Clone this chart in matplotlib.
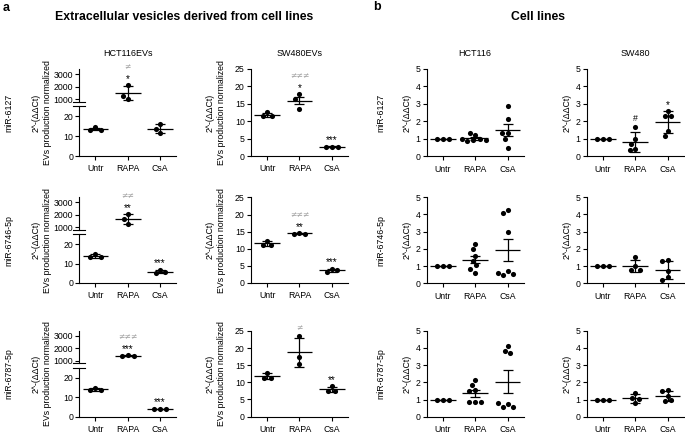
import numpy as np
import matplotlib
matplotlib.use("Agg")
import matplotlib.pyplot as plt

plt.rcParams['font.family'] = ['Liberation Sans', 'DejaVu Sans']
plt.rcParams['font.size'] = 6.3

groups = ["Untr", "RAPA", "CsA"]
mirs = ["miR-6127", "miR-6746-5p", "miR-6787-5p"]

# panel a, HCT116 EVs (mean line, +/- error)
ev_hct_6127 = [[14.5, 13.2, 13.2], [2110, 1050, 1260], [16.2, 11.7, 13.5]]
ev_hct_6127_err = [0.7, 560, 2.3]
ev_hct_6746 = [[14.8, 13.4, 13.4], [2050, 1690, 1250], [6.9, 5.1, 5.5]]
ev_hct_6746_err = [0.8, 400, 0.9]
ev_hct_6787 = [[14.8, 13.6, 13.6], [1420, 1400, 1410], [4.0, 4.0, 4.0]]
ev_hct_6787_err = [0.7, 15, 0.1]

# panel a, SW480 EVs
ev_sw_6127 = [[12.6, 11.5, 11.5], [17.7, 16.5, 13.6], [2.7, 2.7, 2.7]]
ev_sw_6127_err = [0.6, 1.1, 0.05]
ev_sw_6746 = [[12.4, 11.25, 11.25], [14.65, 14.4, 14.4], [4.2, 3.2, 3.7]]
ev_sw_6746_err = [0.7, 0.15, 0.5]
ev_sw_6787 = [[12.7, 11.35, 11.35], [23.5, 17.3, 15.4], [8.85, 7.5, 7.5]]
ev_sw_6787_err = [0.8, 4.3, 0.8]

# panel b, HCT116 cells
hct_6127 = [[1, 1, 1], [1.2, 1.3, 1.0, 0.9, 0.85, 0.95, 1.0], [2.85, 2.1, 1.3, 1.3, 1.0, 0.5]]
hct_6127_err = [0, 0.08, 0.34]
hct_6746 = [[1, 1, 1], [2.28, 1.98, 1.6, 1.3, 1.05, 0.62, 0.8], [4.22, 4.05, 2.95, 0.72, 0.5, 0.55, 0.62]]
hct_6746_err = [0, 0.19, 0.63]
hct_6787 = [[1, 1, 1], [2.13, 1.85, 1.55, 1.5, 0.85, 0.85, 0.85], [4.13, 3.84, 3.67, 0.72, 0.55, 0.57, 0.78]]
hct_6787_err = [0, 0.2, 0.66]

# panel b, SW480 cells
sw_6127 = [[1, 1, 1], [1.65, 0.97, 0.72, 0.44, 0.35], [2.58, 2.28, 2.28, 1.43, 1.14]]
sw_6127_err = [0, 0.57, 0.64]
sw_6746 = [[1, 1, 1], [1.5, 1.0, 0.78, 0.78], [1.35, 1.3, 0.7, 0.35, 0.2]]
sw_6746_err = [0, 0.34, 0.52]
sw_6787 = [[1, 1, 1], [1.35, 1.08, 0.8, 1.05], [1.55, 1.5, 1.2, 0.9, 0.95]]
sw_6787_err = [0, 0.25, 0.3]

# significance marks per group: (grey "not equal"/hash line, star line)
ev_hct_neq = [["", "≠", ""], ["", "≠≠", ""], ["", "≠≠≠", ""]]
ev_hct_star = [["", "*", ""], ["", "**", "***"], ["", "***", "***"]]
ev_sw_neq = [["", "≠≠≠", ""], ["", "≠≠≠", ""], ["", "≠", ""]]
ev_sw_star = [["", "*", "***"], ["", "**", "***"], ["", "", "**"]]
sw_hash = [["", "#", ""], ["", "", ""], ["", "", ""]]
sw_star = [["", "", "*"], ["", "", ""], ["", "", ""]]
no_marks = [["", "", ""]] * 3

W, H = 685, 434
fig = plt.figure(figsize=(W / 100, H / 100), dpi=100)

col_left = [79.3, 251, 426.7, 586.7]
ax_w = 97
row_top = [69, 197.5, 331]
row_bot = [156, 283, 416.5]
grey = '#a0a0a0'
# glyph: (font size, visible centre above baseline in em, font family)
glyph = {'*': (7.2, 0.58, 'Liberation Sans'),
         '≠': (5.6, 0.36, 'DejaVu Sans'),
         '#': (6.3, 0.36, 'Liberation Sans')}


def fx(px):
    return px / W


def fy(py):
    return 1 - py / H


def box(left, top, bottom):
    return [left / W, 1 - bottom / H, ax_w / W, (bottom - top) / H]


def style(ax, xaxis=True):
    for s in ('top', 'right'):
        ax.spines[s].set_visible(False)
    for s in ('left', 'bottom'):
        ax.spines[s].set_linewidth(0.8)
    ax.tick_params(direction='out', length=3, width=0.8, pad=1.5, labelsize=6.3)
    ax.set_xlim(-0.5, 2.5)
    if xaxis:
        ax.set_xticks(range(3))
        ax.set_xticklabels(groups)
        ax.tick_params(axis='x', pad=3)
    else:
        ax.spines['bottom'].set_visible(False)
        ax.set_xticks([])


def swarm(ax_of, i, pts, d=5.8):
    placed = []
    out = []
    for v in pts:
        ax = ax_of(v)
        cx, y = ax.transData.transform((i, v))
        cands = [0.0]
        for px, py in placed:
            dy = abs(y - py)
            if dy < d:
                dx = np.sqrt(d * d - dy * dy)
                cands += [px - dx, px + dx]
        ok = [c for c in cands
              if all((c - px) ** 2 + (y - py) ** 2 >= d * d - 1e-6 for px, py in placed)]
        best = min(ok, key=lambda c: (abs(c), c))
        placed.append((best, y))
        xd = ax.transData.inverted().transform((cx + best, y))[0]
        out.append((ax, xd, v))
    return out


def mark(ax, x, top, text, rise_px, color):
    size, cem, fam = glyph[text[0]]
    off = (rise_px - cem * size * 100 / 72) * 72 / 100
    ax.annotate(text, xy=(x, top), xytext=(0, off), textcoords='offset points',
                ha='center', va='baseline', color=color, fontsize=size, family=fam,
                annotation_clip=False)


def draw(ax_of, data, err, upper_marks, lower_marks, upper_color):
    for i, (pts, e) in enumerate(zip(data, err)):
        m = np.mean(pts)
        ax = ax_of(m)
        ax.plot([i - 0.4, i + 0.4], [m, m], color='k', lw=0.9, solid_capstyle='butt', zorder=2)
        ax.errorbar(i, m, yerr=e, fmt='none', ecolor='k', elinewidth=0.9,
                    capsize=3.6, capthick=0.9, zorder=2)
        for a, xd, v in swarm(ax_of, i, pts):
            a.plot(xd, v, 'o', ms=3.7, color='k', mew=0, zorder=3, clip_on=False)
        top = max(max(pts), m + e)
        rise = 9
        if lower_marks[i]:
            mark(ax, i, top, lower_marks[i], rise, 'k')
            rise += 10
        if upper_marks[i]:
            mark(ax, i, top, upper_marks[i], rise, upper_color)


# ---- panel a, HCT116 EVs: broken y axis
ev_hct = [(ev_hct_6127, ev_hct_6127_err), (ev_hct_6746, ev_hct_6746_err), (ev_hct_6787, ev_hct_6787_err)]
for r, (data, err) in enumerate(ev_hct):
    t, b = row_top[r], row_bot[r]
    h = b - t
    up = fig.add_axes(box(col_left[0], t, t + 0.376 * h))
    lo = fig.add_axes(box(col_left[0], t + 0.43 * h, b))
    style(up, xaxis=False)
    style(lo)
    up.set_ylim(800, 3400)
    up.set_yticks([1000, 2000, 3000])
    lo.set_ylim(0, 25)
    lo.set_yticks([0, 10, 20])
    up.plot([-0.06, 0.06], [0, 0], transform=up.transAxes, color='k', lw=0.8, clip_on=False)
    lo.plot([-0.06, 0.06], [1, 1], transform=lo.transAxes, color='k', lw=0.8, clip_on=False)
    if r == 0:
        up.set_title("HCT116EVs", fontsize=6.5, pad=9)
    draw(lambda v, up=up, lo=lo: up if v > 100 else lo, data, err,
         ev_hct_neq[r], ev_hct_star[r], grey)
    fig.text(fx(42), fy((t + b) / 2), "2^-(ΔΔCt)\nEVs production normalized",
             rotation=90, ha='center', va='center', multialignment='center', linespacing=1.3)
    fig.text(fx(9), fy((t + b) / 2), mirs[r], rotation=90, ha='center', va='center')

# ---- panel a, SW480 EVs
ev_sw = [(ev_sw_6127, ev_sw_6127_err), (ev_sw_6746, ev_sw_6746_err), (ev_sw_6787, ev_sw_6787_err)]
for r, (data, err) in enumerate(ev_sw):
    t, b = row_top[r], row_bot[r]
    ax = fig.add_axes(box(col_left[1], t, b))
    style(ax)
    ax.set_ylim(0, 25)
    ax.set_yticks(range(0, 26, 5))
    if r == 0:
        ax.set_title("SW480EVs", fontsize=6.5, pad=9)
    draw(lambda v, ax=ax: ax, data, err, ev_sw_neq[r], ev_sw_star[r], grey)
    fig.text(fx(216), fy((t + b) / 2), "2^-(ΔΔCt)\nEVs production normalized",
             rotation=90, ha='center', va='center', multialignment='center', linespacing=1.3)

# ---- panel b, cell lines
cells = [
    ("HCT116", 2, [(hct_6127, hct_6127_err), (hct_6746, hct_6746_err), (hct_6787, hct_6787_err)],
     no_marks, no_marks),
    ("SW480", 3, [(sw_6127, sw_6127_err), (sw_6746, sw_6746_err), (sw_6787, sw_6787_err)],
     sw_hash, sw_star),
]
for name, c, rows, hashes, stars in cells:
    for r, (data, err) in enumerate(rows):
        t, b = row_top[r] - 0.5, row_bot[r] + 0.3
        ax = fig.add_axes(box(col_left[c], t, b))
        style(ax)
        ax.set_ylim(0, 5)
        ax.set_yticks(range(6))
        if r == 0:
            ax.set_title(name, fontsize=6.5, pad=9)
        draw(lambda v, ax=ax: ax, data, err, hashes[r], stars[r], 'k')
        fig.text(fx(col_left[c] - 20), fy((t + b) / 2), "2^-(ΔΔCt)",
                 rotation=90, ha='center', va='center')
        if c == 2:
            fig.text(fx(381), fy((t + b) / 2), mirs[r], rotation=90, ha='center', va='center')

fig.text(fx(3), fy(8), "a", weight='bold', fontsize=9, ha='left', va='center')
fig.text(fx(373), fy(7), "b", weight='bold', fontsize=9, ha='left', va='center')
fig.text(fx(184), fy(17), "Extracellular vesicles derived from cell lines",
         weight='bold', fontsize=8.8, ha='center', va='center')
fig.text(fx(538), fy(17), "Cell lines", weight='bold', fontsize=8.8, ha='center', va='center')

fig.savefig("out.png", dpi=100)
